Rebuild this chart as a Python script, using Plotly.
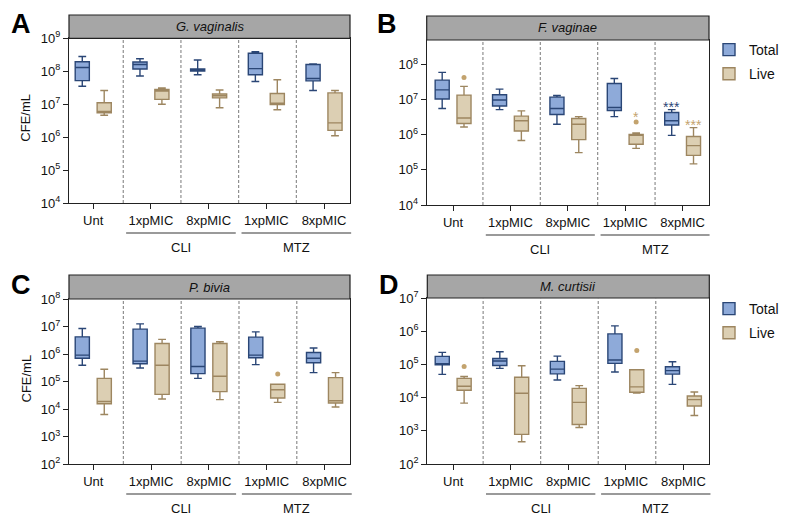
import math
import plotly.graph_objects as go

W, H = 787, 528
FONT = "Arial, 'Liberation Sans', Helvetica, sans-serif"

groups = ["Unt", "1xpMIC", "8xpMIC", "1xpMIC", "8xpMIC"]
drug_labels = ["CLI", "MTZ"]
series_names = ["Total", "Live"]

# ---------- Panel A: G. vaginalis ----------
A_tot_lo  = [3.5e7, 7.2e7, 7.8e7, 4.9e7, 2.6e7]
A_tot_q1  = [5.2e7, 1.17e8, 1.02e8, 7.8e7, 5.1e7]
A_tot_med = [1.3e8, 1.6e8, 1.1e8, 1.2e8, 6.0e7]
A_tot_q3  = [1.95e8, 1.9e8, 1.17e8, 3.5e8, 1.6e8]
A_tot_hi  = [2.8e8, 2.4e8, 2.2e8, 3.9e8, 1.66e8]
A_liv_lo  = [4.6e6, 1.0e7, 7.8e6, 6.8e6, 1.1e6]
A_liv_q1  = [5.5e6, 1.4e7, 1.55e7, 9.8e6, 1.6e6]
A_liv_med = [6.0e6, 2.5e7, 1.8e7, 1.07e7, 2.7e6]
A_liv_q3  = [1.1e7, 2.8e7, 2.04e7, 2.1e7, 2.2e7]
A_liv_hi  = [2.6e7, 3.1e7, 2.7e7, 5.5e7, 2.6e7]

# ---------- Panel B: F. vaginae ----------
B_tot_lo  = [5.6e6, 5.2e6, 2.0e6, 3.3e6, 9.6e5]
B_tot_q1  = [1.05e7, 6.6e6, 3.8e6, 4.9e6, 1.9e6]
B_tot_med = [1.9e7, 9.8e6, 5.6e6, 6.0e6, 2.5e6]
B_tot_q3  = [3.6e7, 1.38e7, 1.18e7, 2.9e7, 4.3e6]
B_tot_hi  = [6.0e7, 2.0e7, 1.32e7, 4.0e7, 5.2e6]
B_liv_lo  = [1.66e6, 6.9e5, 3.1e5, 4.1e5, 1.48e5]
B_liv_q1  = [2.1e6, 1.28e6, 7.3e5, 5.4e5, 2.6e5]
B_liv_med = [3.0e6, 2.5e6, 2.0e6, 9.7e5, 4.9e5]
B_liv_q3  = [1.35e7, 3.4e6, 2.9e6, 1.03e6, 8.9e5]
B_liv_hi  = [2.4e7, 4.8e6, 3.3e6, 1.12e6, 1.6e6]
B_liv_out_idx = [0, 3]
B_liv_out_val = [4.3e7, 2.3e6]
B_star_idx    = [3, 4, 4]
B_star_series = ["Live", "Total", "Live"]
B_star_text   = ["*", "***", "***"]
B_star_val    = [4.3e6, 8.1e6, 2.45e6]

# ---------- Panel C: P. bivia ----------
C_tot_lo  = [3.9e5, 3.1e5, 1.3e5, 4.1e5, 2.1e5]
C_tot_q1  = [7.0e5, 4.4e5, 1.94e5, 7.3e5, 4.8e5]
C_tot_med = [9.1e5, 5.5e5, 3.5e5, 9.1e5, 7.0e5]
C_tot_q3  = [4.2e6, 8.0e6, 8.7e6, 4.1e6, 1.13e6]
C_tot_hi  = [8.5e6, 1.25e7, 1.0e7, 6.4e6, 1.66e6]
C_liv_lo  = [6.3e3, 2.3e4, 2.2e4, 1.74e4, 1.18e4]
C_liv_q1  = [1.56e4, 3.4e4, 4.3e4, 2.5e4, 1.65e4]
C_liv_med = [1.87e4, 3.9e5, 1.55e5, 5.0e4, 2.0e4]
C_liv_q3  = [1.3e5, 2.4e6, 2.4e6, 7.9e4, 1.38e5]
C_liv_hi  = [2.8e5, 3.4e6, 2.8e6, 7.9e4, 2.1e5]
C_liv_out_idx = [3]
C_liv_out_val = [1.86e5]

# ---------- Panel D: M. curtisii ----------
D_tot_lo  = [5.0e4, 7.6e4, 3.4e4, 5.9e4, 2.5e4]
D_tot_q1  = [9.8e4, 9.3e4, 5.2e4, 1.07e5, 5.1e4]
D_tot_med = [1.05e5, 1.26e5, 7.2e4, 1.35e5, 6.5e4]
D_tot_q3  = [1.74e5, 1.51e5, 1.23e5, 8.3e5, 8.5e4]
D_tot_hi  = [2.3e5, 2.4e5, 1.78e5, 1.45e6, 1.2e5]
D_liv_lo  = [6.8e3, 4.7e2, 1.26e3, 1.38e4, 2.9e3]
D_liv_q1  = [1.66e4, 7.8e2, 1.55e3, 1.45e4, 5.6e3]
D_liv_med = [2.2e4, 1.35e4, 7.2e3, 2.1e4, 8.7e3]
D_liv_q3  = [3.8e4, 4.1e4, 1.9e4, 6.9e4, 1.12e4]
D_liv_hi  = [4.3e4, 9.1e4, 2.3e4, 6.9e4, 1.48e4]
D_liv_out_idx = [0, 3]
D_liv_out_val = [8.7e4, 2.6e5]

# ---------- styling / layout ----------
TOT_FILL, TOT_LINE = "#8eaad9", "#2a4676"
LIV_FILL, LIV_LINE = "#dccfb3", "#9d8660"
OUT_COL = "#c3a36e"
OFF = 0.19
BOXW = 0.245

panels = [
    dict(key="A", title="G. vaginalis", xd=(69, 350), yd=(38.3, 203), hdr=15, xr=(-0.42, 4.45), yr=(4, 9),
         tot=(A_tot_lo, A_tot_q1, A_tot_med, A_tot_q3, A_tot_hi), liv=(A_liv_lo, A_liv_q1, A_liv_med, A_liv_q3, A_liv_hi),
         out=([], []), leg=None, ytitle=True, letter=(21, 24)),
    dict(key="B", title="F. vaginae", xd=(426.7, 709), yd=(40, 205), hdr=16, xr=(-0.46, 4.46), yr=(4, 8.7),
         tot=(B_tot_lo, B_tot_q1, B_tot_med, B_tot_q3, B_tot_hi), liv=(B_liv_lo, B_liv_q1, B_liv_med, B_liv_q3, B_liv_hi),
         out=(B_liv_out_idx, B_liv_out_val), leg="legend", ytitle=False, letter=(387, 24)),
    dict(key="C", title="P. bivia", xd=(69, 350), yd=(299, 464), hdr=275, xr=(-0.42, 4.44), yr=(2, 8),
         tot=(C_tot_lo, C_tot_q1, C_tot_med, C_tot_q3, C_tot_hi), liv=(C_liv_lo, C_liv_q1, C_liv_med, C_liv_q3, C_liv_hi),
         out=(C_liv_out_idx, C_liv_out_val), leg=None, ytitle=True, letter=(21, 285)),
    dict(key="D", title="M. curtisii", xd=(427.3, 709.3), yd=(298, 464), hdr=275, xr=(-0.45, 4.45), yr=(2, 7),
         tot=(D_tot_lo, D_tot_q1, D_tot_med, D_tot_q3, D_tot_hi), liv=(D_liv_lo, D_liv_q1, D_liv_med, D_liv_q3, D_liv_hi),
         out=(D_liv_out_idx, D_liv_out_val), leg="legend2", ytitle=False, letter=(389, 285)),
]

def px(x):
    return x / W

def py(y):
    return 1 - y / H

def ann(**kw):
    d = dict(showarrow=False, xanchor="center", yanchor="middle")
    d.update(kw)
    return d

fig = go.Figure()
shapes, annots = [], []
layout_axes = {}

for n, p in enumerate(panels):
    sfx = "" if n == 0 else str(n + 1)
    xa, ya = "x" + sfx, "y" + sfx
    x0p, x1p = p["xd"]
    ytop, ybot = p["yd"]

    def xdata_to_paper(v, p=p):
        r0, r1 = p["xr"]
        a, b = p["xd"]
        return (a + (v - r0) / (r1 - r0) * (b - a)) / W

    for s, (stats, fill, line, off) in enumerate([(p["tot"], TOT_FILL, TOT_LINE, -OFF),
                                                 (p["liv"], LIV_FILL, LIV_LINE, OFF)]):
        lo, q1, med, q3, hi = stats
        if p["leg"]:
            kw = dict(legend=p["leg"], showlegend=True, legendgroup=series_names[s] + p["key"])
        else:
            kw = dict(showlegend=False)
        fig.add_trace(go.Box(
            x=[i + off for i in range(len(groups))],
            lowerfence=lo, q1=q1, median=med, q3=q3, upperfence=hi,
            name=series_names[s], width=BOXW, whiskerwidth=0.55,
            fillcolor=fill, line=dict(color=line, width=1.4),
            boxpoints=False, hoverinfo="skip", xaxis=xa, yaxis=ya, **kw))

    oi, ov = p["out"]
    if oi:
        fig.add_trace(go.Scatter(x=[i + OFF for i in oi], y=ov, mode="markers",
                                 marker=dict(color=OUT_COL, size=5), showlegend=False,
                                 hoverinfo="skip", xaxis=xa, yaxis=ya))

    k0, k1 = int(p["yr"][0]), int(p["yr"][1])
    layout_axes["xaxis" + sfx] = dict(
        domain=[px(x0p), px(x1p)], range=list(p["xr"]), anchor=ya,
        tickvals=list(range(len(groups))), ticktext=groups,
        showline=True, linecolor="#222", linewidth=1.3, mirror=True,
        ticks="outside", ticklen=5, tickcolor="#222", tickwidth=1.2,
        showgrid=False, zeroline=False, automargin=False,
        tickfont=dict(family=FONT, size=13, color="#111"))
    layout_axes["yaxis" + sfx] = dict(
        domain=[py(ybot), py(ytop)], type="log", range=list(p["yr"]), anchor=xa,
        tickvals=[10 ** k for k in range(k0, k1 + 1)],
        ticktext=["10<sup>%d</sup>" % k for k in range(k0, k1 + 1)],
        showline=True, linecolor="#222", linewidth=1.3, mirror=True,
        ticks="outside", ticklen=5, tickcolor="#222", tickwidth=1.2,
        showgrid=False, zeroline=False, automargin=False,
        tickfont=dict(family=FONT, size=13, color="#111"))

    # header strip
    shapes.append(dict(type="rect", xref="paper", yref="paper",
                       x0=px(x0p), x1=px(x1p), y0=py(ytop), y1=py(p["hdr"]),
                       fillcolor="#a6a6a6", line=dict(color="#222", width=1.2), layer="above"))
    annots.append(ann(xref="paper", yref="paper", x=px((x0p + x1p) / 2), y=py((ytop + p["hdr"]) / 2),
                      text="<i>%s</i>" % p["title"], font=dict(family=FONT, size=13, color="#111")))
    # dashed dividers between groups
    for d in range(len(groups) - 1):
        xv = xdata_to_paper(d + 0.52)
        shapes.append(dict(type="line", xref="paper", yref="paper", x0=xv, x1=xv,
                           y0=py(ybot), y1=py(ytop), line=dict(color="#858585", width=1.1, dash="3px,2px")))
    # drug brackets
    for j, lab in enumerate(drug_labels):
        a = 2 * j + 0.57
        b = 2 * j + 2.47
        shapes.append(dict(type="line", xref="paper", yref="paper",
                           x0=xdata_to_paper(a), x1=xdata_to_paper(b),
                           y0=py(ybot + 30), y1=py(ybot + 30), line=dict(color="#9a9a9a", width=2)))
        annots.append(ann(xref="paper", yref="paper", x=(xdata_to_paper(a) + xdata_to_paper(b)) / 2,
                          y=py(ybot + 44), text=lab, font=dict(family=FONT, size=13, color="#111")))
    # panel letter
    annots.append(ann(xref="paper", yref="paper", x=px(p["letter"][0]), y=py(p["letter"][1]),
                      text="<b>%s</b>" % p["key"], font=dict(family=FONT, size=27, color="#000")))
    if p["ytitle"]:
        annots.append(ann(xref="paper", yref="paper", x=px(26), y=py((ytop + ybot) / 2 - 3),
                          text="CFE/mL", textangle=-90, font=dict(family=FONT, size=13, color="#111")))

# significance stars in panel B
for i, s, t, v in zip(B_star_idx, B_star_series, B_star_text, B_star_val):
    annots.append(ann(xref="x2", yref="y2", x=i + (-OFF if s == "Total" else OFF), y=math.log10(v),
                      text=t, yshift=-4,
                      font=dict(family=FONT, size=14, color=TOT_LINE if s == "Total" else OUT_COL)))

fig.update_layout(
    width=W, height=H, margin=dict(l=0, r=0, t=0, b=0, autoexpand=False),
    paper_bgcolor="white", plot_bgcolor="white",
    boxmode="overlay", shapes=shapes, annotations=annots,
    font=dict(family=FONT, size=13, color="#111"),
    legend=dict(x=px(709), y=py(34), xanchor="left", yanchor="top", bgcolor="rgba(0,0,0,0)",
                font=dict(family=FONT, size=14, color="#111"), tracegroupgap=3),
    legend2=dict(x=px(709), y=py(293), xanchor="left", yanchor="top", bgcolor="rgba(0,0,0,0)",
                 font=dict(family=FONT, size=14, color="#111"), tracegroupgap=3),
    **layout_axes,
)

fig.write_html("out.html", config={"displayModeBar": False},
               post_script="document.body.style.margin='0';document.body.style.padding='0';")
